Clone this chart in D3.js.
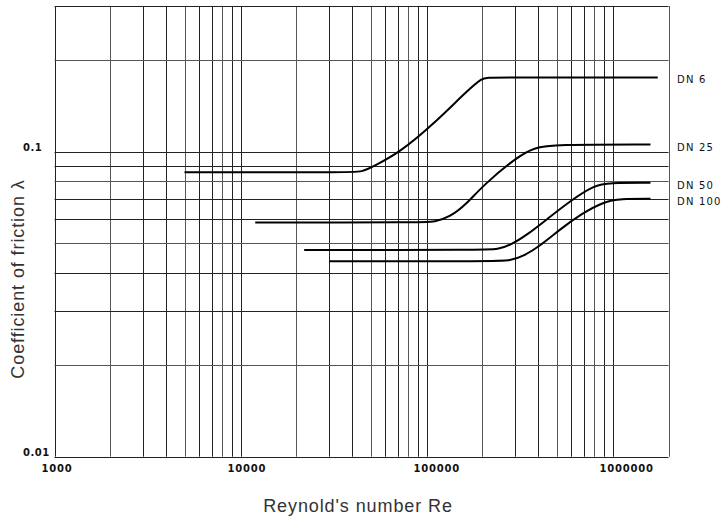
<!DOCTYPE html>
<html>
<head>
<meta charset="utf-8">
<script src="https://cdn.jsdelivr.net/npm/d3@7"></script>
<style>
  html, body { margin: 0; padding: 0; background: #fff; }
  svg { display: block; }
</style>
</head>
<body>
<svg id="chart" width="724" height="519"></svg>
<script>
// ---- data ----
const seriesNames = ["DN 6", "DN 25", "DN 50", "DN 100"];
const reDN6   = [5000, 38000, 45000, 52000, 72000, 109000, 165000, 200000, 215000, 1750000];
const lamDN6  = [0.0855, 0.0855, 0.0857, 0.0895, 0.0995, 0.123, 0.158, 0.1746, 0.175, 0.175];
const reDN25  = [12000, 95000, 110000, 133700, 164500, 201000, 305000, 380000, 480000, 1600000];
const lamDN25 = [0.0586, 0.0586, 0.0588, 0.061, 0.0674, 0.0774, 0.0958, 0.103, 0.1054, 1.054e-1];
const reDN50  = [22000, 210000, 240000, 280000, 350000, 450000, 600000, 800000, 950000, 1600000];
const lamDN50 = [0.0476, 0.0476, 0.0478, 0.0492, 0.0535, 0.0604, 0.0693, 0.0775, 0.079, 0.079];
const reDN100 = [30000, 240000, 280000, 330000, 410000, 520000, 680000, 900000, 1100000, 1600000];
const lamDN100= [0.0437, 0.0437, 0.0439, 0.0453, 0.0492, 0.0555, 0.0625, 0.0685, 0.07, 0.07];
const xTickLabels = [1000, 10000, 100000, 1000000];
const yTickLabels = [0.01, 0.1];
const xDomain = [1000, 2000000];
const yDomain = [0.01, 0.3];

// ---- chart ----
const svg = d3.select("#chart");
const x = d3.scaleLog().domain(xDomain).range([54.5, 668.5]);
const y = d3.scaleLog().domain(yDomain).range([456.7, 6]);

// grid values (1..9 per decade) from the log scales' own ticks
const xGrid = x.ticks(10);
const yGrid = y.ticks(10);

const grid = svg.append("g");
grid.selectAll("line.v").data(xGrid).join("line")
  .attr("class", "v")
  .attr("x1", d => Math.round(x(d)) + 0.5).attr("x2", d => Math.round(x(d)) + 0.5)
  .attr("y1", y(yDomain[1])).attr("y2", y(yDomain[0]))
  .attr("stroke", (d, i) => i % 3 === 1 ? "#555" : "#222")
  .attr("stroke-width", 1);
grid.selectAll("line.h").data(yGrid).join("line")
  .attr("class", "h")
  .attr("y1", d => Math.round(y(d)) + 0.5).attr("y2", d => Math.round(y(d)) + 0.5)
  .attr("x1", x(xDomain[0])).attr("x2", x(xDomain[1]))
  .attr("stroke", (d, i) => i % 3 === 1 ? "#555" : "#222")
  .attr("stroke-width", 1);

// curves
const seriesData = [
  d3.zip(reDN6, lamDN6),
  d3.zip(reDN25, lamDN25),
  d3.zip(reDN50, lamDN50),
  d3.zip(reDN100, lamDN100)
];
const line = d3.line()
  .x(d => x(d[0]))
  .y(d => y(d[1]))
  .curve(d3.curveBasis);

svg.append("g").selectAll("path").data(seriesData).join("path")
  .attr("d", line)
  .attr("fill", "none")
  .attr("stroke", "#000")
  .attr("stroke-width", 2);

// series labels
svg.append("g").selectAll("text").data(seriesData).join("text")
  .attr("x", 677)
  .attr("y", d => y(d[d.length - 1][1]) + 6)
  .attr("font-family", "DejaVu Sans, sans-serif")
  .attr("font-size", 10)
  .attr("letter-spacing", "1.2")
  .attr("fill", "#111")
  .text((d, i) => seriesNames[i]);

// x tick labels
svg.append("g").selectAll("text").data(xTickLabels).join("text")
  .attr("x", d => x(d) - 13)
  .attr("y", 472)
  .attr("font-family", "DejaVu Sans, sans-serif")
  .attr("font-weight", "bold")
  .attr("font-size", 10)
  .attr("letter-spacing", "0.8")
  .attr("fill", "#111")
  .text(d => d3.format("d")(d));

// y tick labels
svg.append("g").selectAll("text").data(yTickLabels).join("text")
  .attr("x", 23)
  .attr("y", d => y(d) - 1)
  .attr("font-family", "DejaVu Sans, sans-serif")
  .attr("font-weight", "bold")
  .attr("font-size", 10)
  .attr("letter-spacing", "0.5")
  .attr("fill", "#111")
  .text(d => String(d));

// axis titles
svg.append("text")
  .attr("x", 358).attr("y", 512)
  .attr("text-anchor", "middle")
  .attr("font-family", "Liberation Sans, Arial, sans-serif")
  .attr("font-size", 18)
  .attr("letter-spacing", "0.9")
  .attr("fill", "#333")
  .text("Reynold's number Re");

svg.append("text")
  .attr("transform", "translate(24,279) rotate(-90)")
  .attr("text-anchor", "middle")
  .attr("font-family", "Liberation Sans, Arial, sans-serif")
  .attr("font-size", 18)
  .attr("letter-spacing", "0.9")
  .attr("fill", "#333")
  .text("Coefficient of friction λ");
</script>
</body>
</html>
